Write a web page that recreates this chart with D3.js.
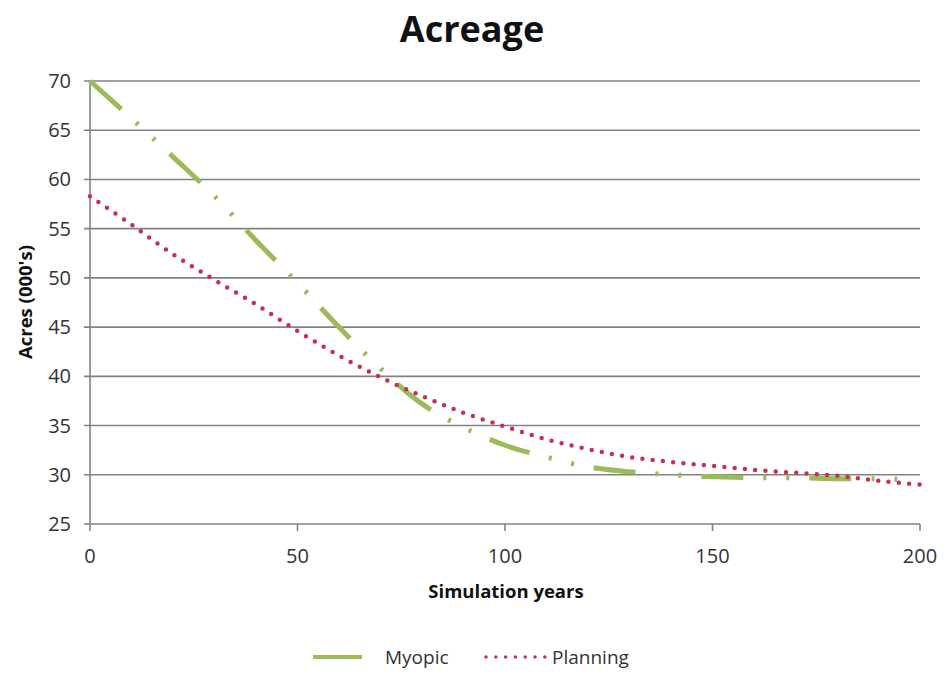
<!DOCTYPE html>
<html><head><meta charset="utf-8">
<script src="https://cdn.jsdelivr.net/npm/d3@7/dist/d3.min.js"></script>
<style>body{margin:0;background:#fff;} text{font-family:"Open Sans","Noto Sans",sans-serif;}</style>
</head><body>
<svg id="c" width="945" height="673"></svg>
<script>
const years = [0,10,20,30,40,50,60,70,80,90,100,110,120,130,140,150,160,170,180,190,197];
const myopic = [70,66.2,62.3,58.3,53.8,49.5,45,40.8,37.2,34.8,33,31.8,30.8,30.3,30,29.8,29.7,29.7,29.6,29.6,29.5];
const planYears = [0,10,20,30,40,50,60,70,80,90,100,110,120,130,140,150,160,170,180,190,200];
const planning = [58.3,55.4,52.4,49.8,47.3,44.6,42.1,39.9,38,36.3,34.9,33.6,32.6,31.8,31.3,30.9,30.5,30.2,29.9,29.4,29.0];
const xTicks = [0,50,100,150,200];
const yTicks = [25,30,35,40,45,50,55,60,65,70];
const seriesNames = ["Myopic","Planning"];

const svg = d3.select("#c");
const x = d3.scaleLinear().domain([0,200]).range([90,920]);
const y = d3.scaleLinear().domain([25,70]).range([524,81]);
const green = "#9bbb59", red = "#c9304f", grid = "#828282";

svg.append("text").attr("x",472).attr("y",42).attr("text-anchor","middle")
  .attr("font-size",36).attr("font-weight","bold").attr("fill","#111").text("Acreage");

// gridlines
svg.append("g").selectAll("line").data(yTicks).join("line")
  .attr("x1",84).attr("x2",920).attr("y1",d=>y(d)).attr("y2",d=>y(d))
  .attr("stroke",grid).attr("stroke-width",1.6);
// y axis line
svg.append("line").attr("x1",90).attr("x2",90).attr("y1",81).attr("y2",524).attr("stroke",grid).attr("stroke-width",1.6);
// x ticks
svg.append("g").selectAll("line").data(xTicks).join("line")
  .attr("x1",d=>x(d)).attr("x2",d=>x(d)).attr("y1",524).attr("y2",531)
  .attr("stroke",grid).attr("stroke-width",1.6);

svg.append("g").selectAll("text").data(yTicks).join("text")
  .attr("x",71).attr("y",d=>y(d)+7).attr("text-anchor","end")
  .attr("font-size",20).attr("fill","#333").text(d=>d);
svg.append("g").selectAll("text").data(xTicks).join("text")
  .attr("x",d=>x(d)).attr("y",563).attr("text-anchor","middle")
  .attr("font-size",20).attr("fill","#333").text(d=>d);

svg.append("text").attr("transform","translate(32,302) rotate(-90)").attr("text-anchor","middle")
  .attr("font-size",18.5).attr("font-weight","bold").attr("fill","#111").text("Acres (000's)");
svg.append("text").attr("x",506).attr("y",598).attr("text-anchor","middle")
  .attr("font-size",18.5).attr("font-weight","bold").attr("fill","#111").text("Simulation years");

const line = d3.line().x(d=>x(d[0])).y(d=>y(d[1])).curve(d3.curveCatmullRom);
svg.append("path").attr("d",line(years.map((v,i)=>[v,myopic[i]])))
  .attr("fill","none").attr("stroke",green).attr("stroke-width",5)
  .attr("stroke-dasharray","42,20,3,20,3,20");
svg.append("path").attr("d",line(planYears.map((v,i)=>[v,planning[i]])))
  .attr("fill","none").attr("stroke",red).attr("stroke-width",4.5)
  .attr("stroke-linecap","round").attr("stroke-dasharray","0,10.3");

// legend
svg.append("line").attr("x1",313).attr("x2",362).attr("y1",657).attr("y2",657)
  .attr("stroke",green).attr("stroke-width",4);
svg.append("text").attr("x",385).attr("y",664).attr("font-size",19).attr("fill","#333").text(seriesNames[0]);
svg.append("line").attr("x1",486).attr("x2",545).attr("y1",657).attr("y2",657)
  .attr("stroke",red).attr("stroke-width",3.5).attr("stroke-linecap","round").attr("stroke-dasharray","0,9.8");
svg.append("text").attr("x",552).attr("y",664).attr("font-size",19).attr("fill","#333").text(seriesNames[1]);
</script>
</body></html>
